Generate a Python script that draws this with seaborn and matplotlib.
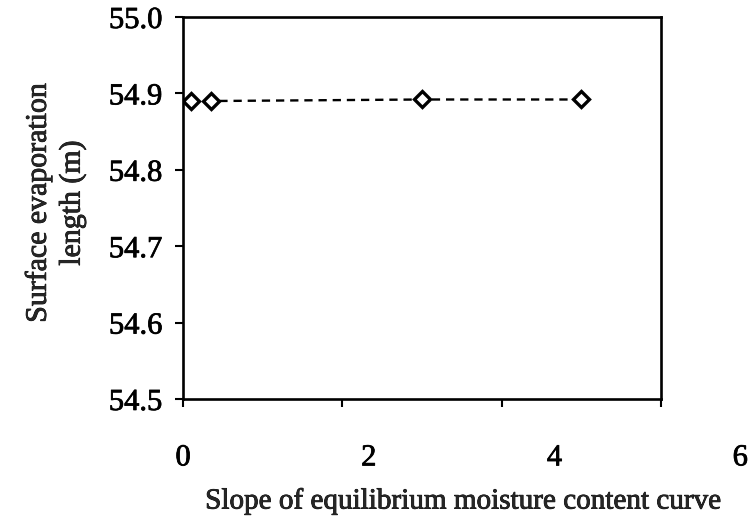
import matplotlib
matplotlib.use("Agg")
import matplotlib.pyplot as plt
import matplotlib.transforms as mtransforms
import matplotlib.patheffects as pe
import seaborn as sns
import pandas as pd

# Surface evaporation length versus slope of the equilibrium moisture content curve
slope = [0.1, 0.35, 3.0, 5.0]
evap_length = [54.890, 54.890, 54.892, 54.892]
x_ticks = [0, 2, 4, 6]
y_ticks = [54.5, 54.6, 54.7, 54.8, 54.9, 55.0]
y_tick_labels = ["54.5", "54.6", "54.7", "54.8", "54.9", "55.0"]

sns.set_style("ticks")
plt.rcParams["font.family"] = ["Liberation Serif", "DejaVu Serif"]

df = pd.DataFrame({"slope": slope, "length": evap_length})

fig = plt.figure(figsize=(7.48, 5.21), dpi=100)
ax = fig.add_axes([0.2447, 0.2342, 0.6390, 0.7332])

sns.lineplot(data=df, x="slope", y="length", ax=ax, color="black",
             linestyle=(0, (3.5, 2.5)), linewidth=1.7, marker="D", markersize=8,
             markerfacecolor="white", markeredgecolor="black", markeredgewidth=2.4)

ax.set_xlim(0, 6)
ax.set_ylim(54.5, 55.0)
ax.set_xticks(x_ticks)
ax.set_yticks(y_ticks)
ax.set_yticklabels(y_tick_labels)

for side in ["top", "right", "left", "bottom"]:
    ax.spines[side].set_visible(True)
    ax.spines[side].set_linewidth(1.9)
    ax.spines[side].set_color("black")

ax.tick_params(axis="y", direction="out", length=6, width=1.5, labelsize=22, pad=9, colors="black")
ax.tick_params(axis="x", direction="out", length=6, width=1.5, labelsize=22, pad=26, colors="black")

# the x tick labels drift to the right of their ticks, more so further along the axis
for tick, val in zip(ax.xaxis.get_major_ticks(), x_ticks):
    shift = mtransforms.ScaledTranslation(0.132 * val, 0, fig.dpi_scale_trans)
    tick.label1.set_transform(tick.label1.get_transform() + shift)

ax.set_xlabel("Slope of equilibrium moisture content curve", fontsize=21)
ax.xaxis.set_label_coords(0.585, -0.232)
ax.set_ylabel("Surface evaporation\nlength (m)", fontsize=21.5, linespacing=1.35)
ax.yaxis.set_label_coords(-0.203, 0.513)

heavy = [pe.withStroke(linewidth=0.55, foreground="black")]
for txt in ax.get_xticklabels() + ax.get_yticklabels() + [ax.xaxis.label, ax.yaxis.label]:
    txt.set_path_effects(heavy)

fig.savefig("out.png", dpi=100, facecolor="white")
